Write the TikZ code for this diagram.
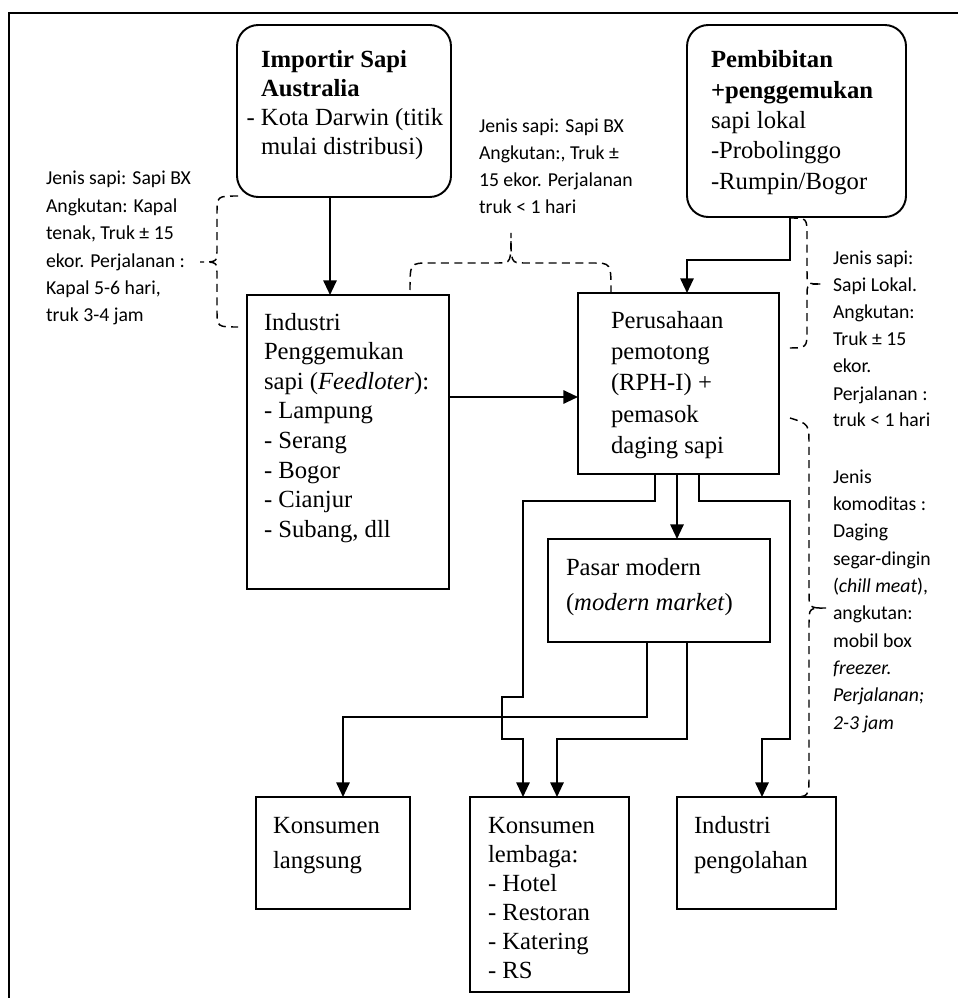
\documentclass[tikz,border=0pt]{standalone}
\usepackage{fontspec}
\setmainfont{Liberation Serif}
\newfontfamily\calib{Carlito}
\usetikzlibrary{arrows.meta,fit}
\newcommand\blk[2]{\vtop{\baselineskip=#1\relax\halign{##\hfil\cr#2\crcr}}}
\begin{document}
\begin{tikzpicture}[x=0.75pt,y=-0.75pt,
  box/.style={draw,line width=1.45pt,inner sep=0pt,outer sep=0pt},
  rbox/.style={box,rounded corners=16pt},
  ser/.style={inner sep=0pt,outer sep=0pt,anchor=base west,font=\fontsize{18.5}{22}\selectfont},
  san/.style={inner sep=0pt,outer sep=0pt,anchor=base west,font=\calib\fontsize{14.8}{20.4}\selectfont},
  arr/.style={line width=1.45pt,-{Triangle[length=11pt,width=10pt]}},
  brc/.style={line width=1.1pt,dash pattern=on 6pt off 4pt}]
\useasboundingbox (0,0) rectangle (958,998);
% outer frame
\draw[line width=1.6pt] (9,998) -- (9,13) -- (958,13);
% boxes
\node[rbox,fit={(237,25) (451,197)}] (imp) {};
\node[rbox,fit={(687,25) (906,217)}] (pem) {};
\node[box,fit={(247,295) (449,589)}] (ind) {};
\node[box,fit={(578,293) (779,474)}] (per) {};
\node[box,fit={(548,539) (770,642)}] (pas) {};
\node[box,fit={(256,797) (410,909)}] (kl) {};
\node[box,fit={(470,797) (629,992)}] (kle) {};
\node[box,fit={(677,797) (836,909)}] (ip) {};
% box texts
\node[ser] (timp) at (261,68) {\blk{21.75pt}{\textbf{Importir Sapi}\cr\textbf{Australia}\cr\llap{- }Kota Darwin (titik\cr mulai distribusi)}};
\node[ser] (tpem) at (711,68) {\blk{22.7pt}{\textbf{Pembibitan}\cr\textbf{+penggemukan}\cr sapi lokal\cr -Probolinggo\cr -Rumpin/Bogor}};
\node[ser] (tind) at (264,330) {\blk{22.2pt}{Industri\cr Penggemukan\cr sapi (\textit{Feedloter}):\cr - Lampung\cr - Serang\cr - Bogor\cr - Cianjur\cr - Subang, dll}};
\node[ser] (tper) at (611,328) {\blk{23.6pt}{Perusahaan\cr pemotong\cr (RPH-I) +\cr pemasok\cr daging sapi}};
\node[ser] (tpas) at (566,575) {\blk{26.25pt}{Pasar modern\cr (\textit{modern market})}};
\node[ser] (tkl) at (273,833) {\blk{26.25pt}{Konsumen\cr langsung}};
\node[ser] (tkle) at (488,833) {\blk{21.75pt}{Konsumen\cr lembaga:\cr - Hotel\cr - Restoran\cr - Katering\cr - RS}};
\node[ser] (tip) at (694,833) {\blk{26.25pt}{Industri\cr pengolahan}};
% side notes
\node[san] (nleft) at (46,185) {\blk{20.55pt}{Jenis sapi: Sapi BX\cr Angkutan: Kapal\cr tenak, Truk ± 15\cr ekor. Perjalanan :\cr Kapal 5-6 hari,\cr truk 3-4 jam}};
\node[san] (ntop) at (479,133) {\blk{20.1pt}{Jenis sapi: Sapi BX\cr Angkutan:, Truk ±\cr 15 ekor. Perjalanan\cr truk < 1 hari}};
\node[san] (nr1) at (833,265) {\blk{20.25pt}{Jenis sapi:\cr Sapi Lokal.\cr Angkutan:\cr Truk ± 15\cr ekor.\cr Perjalanan :\cr truk < 1 hari}};
\node[san] (nr2) at (833,483) {\blk{20.5pt}{Jenis\cr komoditas :\cr Daging\cr segar-dingin\cr (\textit{chill meat}),\cr angkutan:\cr mobil box\cr \textit{freezer.}\cr \textit{Perjalanan;}\cr \textit{2-3 jam}}};
% connectors
\draw[arr] (imp.south -| 330,0) -- (ind.north -| 330,0);
\draw[arr] (pem.south -| 790,0) -- (790,260) -- (687,260) -- (per.north -| 687,0);
\draw[arr] (ind.east |- 0,397) -- (per.west |- 0,397);
\draw[arr] (per.south -| 677,0) -- (pas.north -| 677,0);
\draw[arr] (per.south -| 655,0) -- (655,501) -- (523,501) -- (523,697) -- (502,697) -- (502,739) -- (523,739) -- (kle.north -| 523,0);
\draw[arr] (pas.south -| 647,0) -- (647,717) -- (343,717) -- (kl.north -| 343,0);
\draw[arr] (pas.south -| 687,0) -- (687,739) -- (557,739) -- (kle.north -| 557,0);
\draw[arr] (per.south -| 699,0) -- (699,501) -- (790,501) -- (790,739) -- (762,739) -- (ip.north -| 762,0);
% dashed braces
\draw[brc] (238,196) .. controls (217,196) .. (217,214) -- (217,250) .. controls (217,262) .. (200,262) .. controls (217,262) .. (217,274) -- (217,310) .. controls (217,327) .. (238,327);
\draw[brc] (410,290) .. controls (410,263) .. (430,263) -- (498,263) .. controls (511,263) .. (511,233) .. controls (511,263) .. (524,263) -- (592,263) .. controls (611,263) .. (611,292);
\draw[brc] (790,218) .. controls (807,218) .. (807,236) -- (807,272) .. controls (807,284) .. (822,284) .. controls (807,284) .. (807,296) -- (807,330) .. controls (807,348) .. (787,348);
\draw[brc] (790,418) .. controls (809,424) .. (809,446) -- (809,592) .. controls (809,608) .. (826,608) .. controls (809,608) .. (809,624) -- (809,775) .. controls (809,797) .. (790,797);
\end{tikzpicture}
\end{document}
